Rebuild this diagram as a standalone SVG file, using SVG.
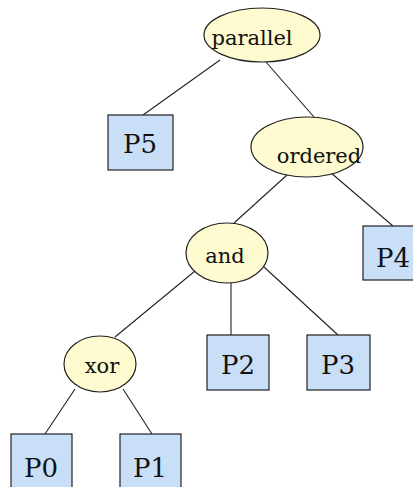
<svg xmlns="http://www.w3.org/2000/svg" width="413" height="487" viewBox="0 0 413 487">
<style>
.op ellipse{fill:#fdfbcf;stroke:#222;stroke-width:1.2}
.leaf rect{fill:#c9def7;stroke:#222;stroke-width:1.2}
text{font-family:'DejaVu Serif',serif;fill:#111;text-anchor:middle}
.op text{font-size:21px}
.leaf text{font-size:26px}
#connectors line{stroke:#222;stroke-width:1.1}
</style>
<rect width="413" height="487" fill="#fff"/>
<g id="connectors">
<line x1="220" y1="60" x2="143" y2="115"/>
<line x1="266" y1="62" x2="314" y2="117"/>
<line x1="287" y1="175" x2="234" y2="223"/>
<line x1="330" y1="172" x2="393" y2="226"/>
<line x1="195" y1="271" x2="115" y2="337"/>
<line x1="231" y1="283" x2="231" y2="335"/>
<line x1="264" y1="267" x2="338" y2="335"/>
<line x1="75" y1="389" x2="45" y2="434"/>
<line x1="123" y1="389" x2="152" y2="434"/>
</g>
<g id="parallel" class="op"><ellipse cx="262" cy="35" rx="58" ry="27"/><text x="252" y="45">parallel</text></g>
<g id="ordered" class="op"><ellipse cx="307" cy="147" rx="56" ry="30"/><text x="319" y="163">ordered</text></g>
<g id="and" class="op"><ellipse cx="227" cy="253" rx="41" ry="30"/><text x="225" y="263">and</text></g>
<g id="xor" class="op"><ellipse cx="100" cy="364" rx="36" ry="28"/><text x="102" y="373">xor</text></g>
<g id="P5" class="leaf"><rect x="108" y="115" width="65" height="55"/><text x="140" y="153">P5</text></g>
<g id="P4" class="leaf"><rect x="363" y="226" width="62" height="54"/><text x="393" y="267">P4</text></g>
<g id="P2" class="leaf"><rect x="207" y="335" width="62" height="55"/><text x="238" y="374">P2</text></g>
<g id="P3" class="leaf"><rect x="307" y="335" width="63" height="55"/><text x="338" y="374">P3</text></g>
<g id="P0" class="leaf"><rect x="11" y="434" width="61" height="56"/><text x="41" y="477">P0</text></g>
<g id="P1" class="leaf"><rect x="120" y="434" width="61" height="56"/><text x="150" y="477">P1</text></g>
</svg>
